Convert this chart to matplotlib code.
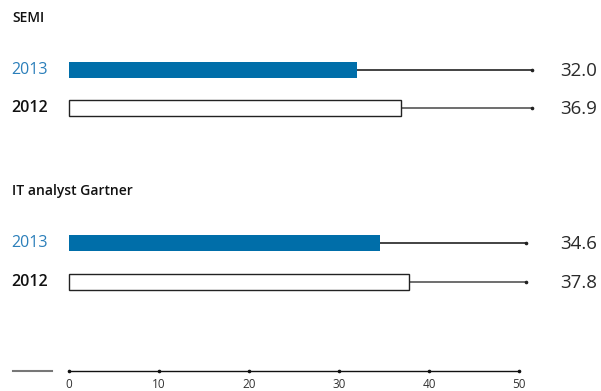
import numpy as np
import matplotlib.pyplot as plt

plt.rcParams['font.family'] = ['Open Sans', 'DejaVu Sans']

# data
groups = ["SEMI", "IT analyst Gartner"]
years = ["2013", "2012"]
values_2013 = [32.0, 34.6]
values_2012 = [36.9, 37.8]
whisker_end = [51.4, 50.8]
ticks = [0, 10, 20, 30, 40, 50]

blue = "#006ea9"
blue_txt = "#2b7fba"

W, H = 601, 391
fig = plt.figure(figsize=(W / 100, H / 100), dpi=100)
ax = fig.add_axes([0, 0, 1, 1])
# 0 -> px 69, 50 -> px 519  (9 px per unit)
x0, scale = 69, 9.0
ax.set_xlim(-x0 / scale, (W - x0) / scale)
ax.set_ylim(H, 0)
ax.axis("off")

title_y = [18, 191]
row_y = [[70, 108], [243, 282]]
bar_h = 16

for g in range(len(groups)):
    ax.text(-57 / scale, title_y[g], groups[g], fontsize=10, fontweight="semibold",
            va="center", ha="left", color="#111111")
    vals = [values_2013[g], values_2012[g]]
    for i in range(2):
        y = row_y[g][i]
        ax.plot([vals[i], whisker_end[g]], [y, y], color="#222222" if i == 0 else "#555555",
                lw=1.2, zorder=1)
        ax.plot([whisker_end[g]], [y], marker="o", ms=1.6, color="#222222", zorder=2)
        if i == 0:
            ax.barh(y, vals[i], height=bar_h, left=0, color=blue, zorder=3)
            ax.text(-21 / scale, y, years[i], fontsize=11.5, color=blue_txt,
                    ha="right", va="center")
        else:
            ax.barh(y, vals[i], height=bar_h, left=0, color="white",
                    edgecolor="#222222", lw=1.0, zorder=3)
            ax.text(-21 / scale, y, years[i], fontsize=11.5, color="#111111",
                    fontweight="semibold", ha="right", va="center")
        ax.text((597 - x0) / scale, y + 1, f"{vals[i]:.1f}", fontsize=13.5,
                color="#2a2a2a", ha="right", va="center")

# bottom axis
axis_y = 371
ax.plot([ticks[0], ticks[-1]], [axis_y, axis_y], color="#111111", lw=1.0)
ax.plot(ticks, [axis_y] * len(ticks), "o", ms=1.6, color="#111111")
for t in ticks:
    ax.text(t, 384, str(t), fontsize=8.5, ha="center", va="center", color="#333333")
ax.plot([-56 / scale, -17 / scale], [axis_y, axis_y], color="#777777", lw=1.5)

fig.savefig("out.png", dpi=100)
